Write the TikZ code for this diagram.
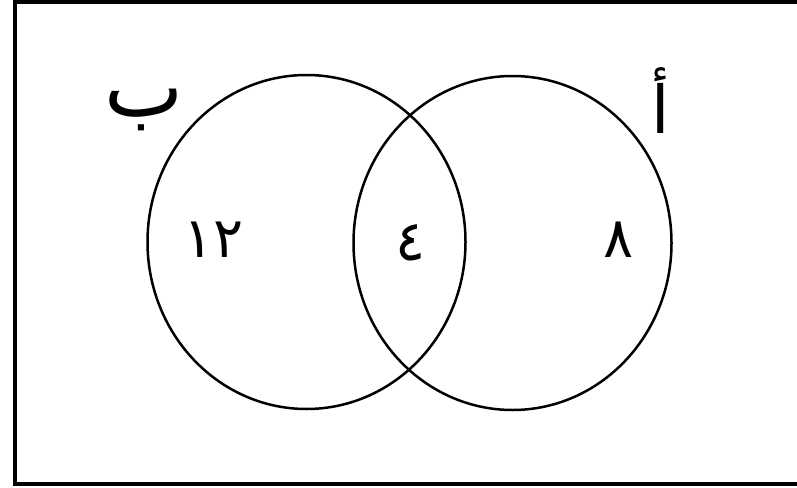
\documentclass[tikz,border=0pt]{standalone}
\usepackage{fontspec}
\usepackage{tikz}
\newfontfamily\arabicfont[Script=Arabic]{DejaVu Sans}
\TeXXeTstate=1
\tikzset{
  setlbl/.style={inner sep=0pt, font=\arabicfont\fontsize{#1}{#1}\selectfont},
  numlbl/.style={inner sep=0pt, font=\arabicfont\fontsize{56}{60}\selectfont},
}

\begin{document}
\begin{tikzpicture}[x=1pt, y=-1pt]
\useasboundingbox (0,0) rectangle (797,487);
% frame, open on the right side
\draw[line width=4.3pt] (797,2.2) -- (15,2.2) -- (15,484) -- (797,484);
% the two sets: left is B, right is A
\foreach \cx/\cy in {306.5/242, 512.5/243}{
  \draw[line width=2.5pt] (\cx,\cy) ellipse [x radius=159, y radius=167];
}
% set names
\node[setlbl=84] (setB) at (144,110) {\beginR ب\endR};
\node[setlbl=66] (setA) at (661,101) {\beginR أ\endR};
% counts in each region
\node[numlbl] (onlyB) at (214,240) {١٢};
\node[numlbl] (both) at (411,243) {٤};
\node[numlbl] (onlyA) at (619,240) {٨};
\end{tikzpicture}
\end{document}
